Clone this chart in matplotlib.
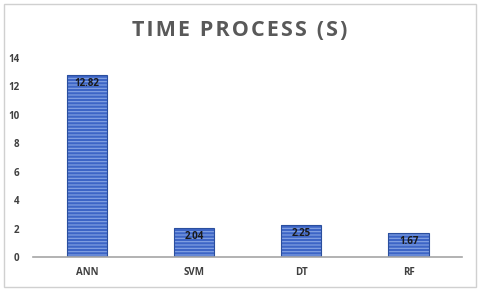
import matplotlib.pyplot as plt
import matplotlib.patches as patches
import numpy as np

models = ['ANN', 'SVM', 'DT', 'RF']
times = [12.82, 2.04, 2.25, 1.67]
yticks = [0, 2, 4, 6, 8, 10, 12, 14]

plt.rcParams['font.family'] = ['Open Sans', 'DejaVu Sans']
plt.rcParams['hatch.linewidth'] = 0.8

fig = plt.figure(figsize=(4.8, 2.9), dpi=100)
ax = fig.add_axes([0.069, 0.114, 0.894, 0.686])

x = np.arange(len(models))
w = 0.375
# striped fill, then dark outline on top
ax.bar(x, times, w, color='#3d65c6', edgecolor='#86a4e4', hatch='-----', linewidth=0)
ax.bar(x, times, w, color='none', edgecolor='#2b4f9e', linewidth=0.8)

for xi, v in zip(x, times):
    ax.text(xi, v - 0.22, f'{v:.2f}', ha='center', va='top', fontsize=7,
            fontweight='bold', color='#1a1a1a')

ax.set_xlim(-0.5, len(models) - 0.5)
ax.set_ylim(0, 14)
ax.set_yticks(yticks)
ax.set_xticks(x)
ax.set_xticklabels(models)
ax.tick_params(length=0, labelsize=7, labelcolor='#404040')
ax.tick_params(axis='x', pad=7)
ax.tick_params(axis='y', pad=10)
for lbl in ax.get_xticklabels() + ax.get_yticklabels():
    lbl.set_fontweight('bold')
for s in ['top', 'right', 'left']:
    ax.spines[s].set_visible(False)
ax.spines['bottom'].set_color('#a6a6a6')
ax.spines['bottom'].set_linewidth(1.2)

# a little letter spacing, like the original title
title = '\u200a'.join('TIME PROCESS (S)')
fig.text(0.5, 0.895, title, ha='center', va='center',
         fontsize=15.5, fontweight='bold', color='#595959')

fig.patches.append(patches.Rectangle((0.008, 0.012), 0.984, 0.975, transform=fig.transFigure,
                                     fill=False, edgecolor='#d0d0d0', linewidth=1))

fig.savefig('out.png', dpi=100)
